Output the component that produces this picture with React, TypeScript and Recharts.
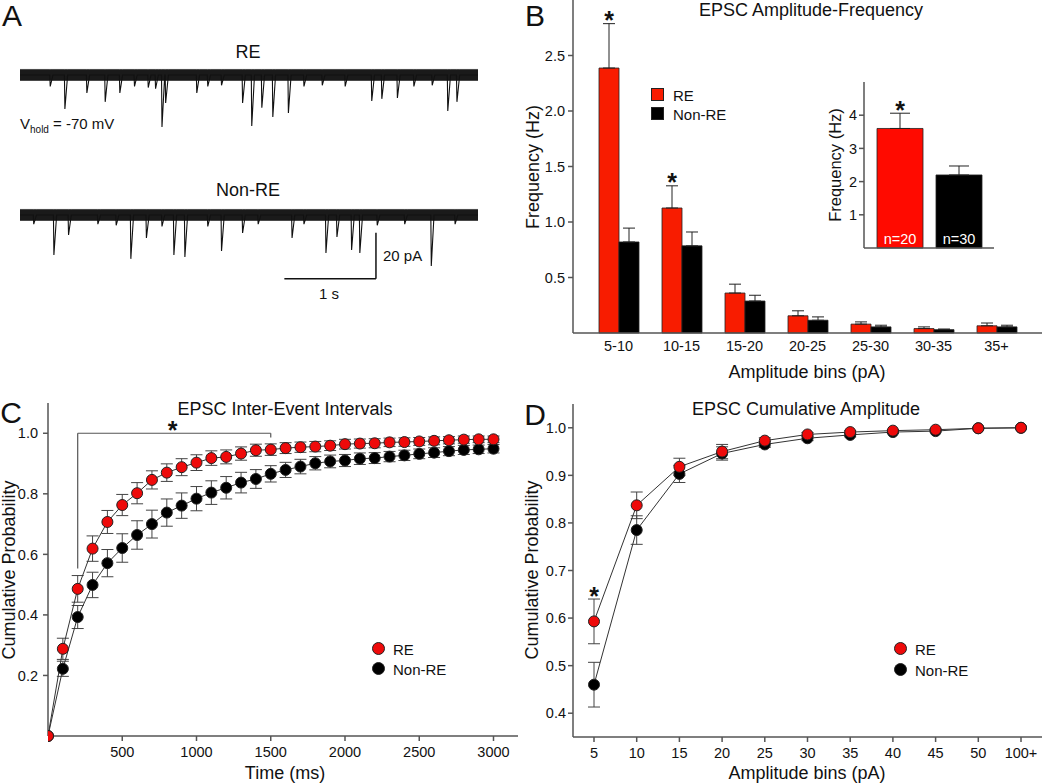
import React from "react";
import {
  BarChart,
  Bar,
  XAxis,
  YAxis,
  ErrorBar,
  LabelList,
  Cell,
  ComposedChart,
  Line,
  Area,
  ReferenceLine,
  ReferenceDot,
} from "recharts";

const FONT = '"Liberation Sans", Arial, Helvetica, sans-serif';
const INK = "#111";
const AXIS = "#555";
const RED = "#f81c00";
const DOT_RED = "#ee0a0a";
const BLACK = "#000";

// ---- A: example traces (event time in s, amplitude in pA) ----
const reEventTimes = [0.33, 0.49, 0.73, 0.93, 1.09, 1.25, 1.4, 1.48, 1.55, 1.59, 1.93, 2.05, 2.2, 2.43, 2.53, 2.64, 2.76, 2.93, 3.1, 3.3, 3.55, 3.84, 3.95, 4.12, 4.3, 4.5, 4.67, 4.77];
const reEventAmps = [5, 14.8, 7.8, 11.7, 7.8, 5, 5.5, 6, 22.6, 12.2, 7.8, 5, 4.5, 12.2, 22.2, 14.3, 18.3, 16.5, 5, 4.5, 5, 11.3, 10.4, 10, 5, 4.5, 15.7, 11.7];
const nonEventTimes = [0.15, 0.37, 0.53, 0.85, 1.05, 1.21, 1.38, 1.55, 1.68, 1.8, 2.05, 2.2, 2.43, 2.6, 2.97, 3.1, 3.34, 3.46, 3.62, 3.71, 3.9, 4.2, 4.49, 4.75];
const nonEventAmps = [4, 17.4, 8.7, 4, 4.5, 19.1, 10, 5, 17.4, 18.3, 5, 15.7, 7.8, 4, 10, 4, 16.5, 9.6, 15.2, 16.5, 4.5, 4, 22.2, 4];
const traceLength = 5;
const noiseHalf = 2.4;
const scaleBarStart = 2.886;
const scaleBarSec = 1;
const scaleBarBase = -27.8;
const scaleBarPA = 20;

// ---- B: amplitude-frequency ----
const ampBins = ["5-10", "10-15", "15-20", "20-25", "25-30", "30-35", "35+"];
const freqRE = [2.387, 1.126, 0.36, 0.155, 0.08, 0.04, 0.065];
const freqREErr = [0.4, 0.2, 0.08, 0.045, 0.02, 0.015, 0.025];
const freqNon = [0.82, 0.785, 0.288, 0.115, 0.055, 0.03, 0.055];
const freqNonErr = [0.125, 0.125, 0.052, 0.03, 0.015, 0.006, 0.015];
const freqSig = [true, true, false, false, false, false, false];
const freqTicks = [0.5, 1.0, 1.5, 2.0, 2.5];

// inset: mean frequency
const groups = ["RE", "Non-RE"];
const meanFreq = [3.6, 2.2];
const meanFreqErr = [0.46, 0.27];
const groupN = ["n=20", "n=30"];
const meanSig = [true, false];

// ---- C: inter-event intervals ----
const ieiTimes = [0, 100, 200, 300, 400, 500, 600, 700, 800, 900, 1000, 1100, 1200, 1300, 1400, 1500, 1600, 1700, 1800, 1900, 2000, 2100, 2200, 2300, 2400, 2500, 2600, 2700, 2800, 2900, 3000];
const ieiRE = [0, 0.288, 0.486, 0.619, 0.707, 0.763, 0.802, 0.846, 0.87, 0.888, 0.903, 0.918, 0.922, 0.933, 0.944, 0.946, 0.951, 0.954, 0.956, 0.959, 0.964, 0.966, 0.967, 0.97, 0.971, 0.973, 0.975, 0.977, 0.979, 0.98, 0.98];
const ieiREErr = [0, 0.035, 0.044, 0.042, 0.038, 0.035, 0.035, 0.03, 0.029, 0.028, 0.026, 0.024, 0.023, 0.022, 0.02, 0.019, 0.018, 0.017, 0.017, 0.016, 0.016, 0.015, 0.015, 0.014, 0.014, 0.013, 0.013, 0.012, 0.012, 0.011, 0.011];
const ieiNon = [0, 0.222, 0.393, 0.499, 0.571, 0.621, 0.664, 0.7, 0.738, 0.761, 0.784, 0.804, 0.82, 0.837, 0.849, 0.866, 0.879, 0.89, 0.901, 0.907, 0.91, 0.916, 0.918, 0.923, 0.927, 0.932, 0.936, 0.941, 0.945, 0.947, 0.949];
const ieiNonErr = [0, 0.025, 0.038, 0.042, 0.045, 0.047, 0.047, 0.046, 0.045, 0.042, 0.04, 0.039, 0.037, 0.034, 0.031, 0.027, 0.025, 0.024, 0.022, 0.021, 0.02, 0.019, 0.018, 0.017, 0.017, 0.016, 0.016, 0.015, 0.015, 0.014, 0.014];
const ieiTicks = [500, 1000, 1500, 2000, 2500, 3000];
const ieiYTicks = [0.2, 0.4, 0.6, 0.8, 1.0];
const bracketStart = 200;
const bracketEnd = 1500;
const bracketY = 1.0;
const bracketLeftLow = 0.553;
const bracketRightLow = 0.986;

// ---- D: cumulative amplitude ----
const cumBins = ["5", "10", "15", "20", "25", "30", "35", "40", "45", "50", "100+"];
const cumRE = [0.593, 0.837, 0.918, 0.95, 0.973, 0.986, 0.991, 0.994, 0.996, 0.999, 1.0];
const cumREErr = [0.047, 0.028, 0.018, 0.015, 0.006, 0.004, 0.003, 0.002, 0.002, 0.001, 0];
const cumNon = [0.46, 0.785, 0.903, 0.946, 0.965, 0.978, 0.985, 0.991, 0.993, 0.999, 1.0];
const cumNonErr = [0.047, 0.03, 0.018, 0.014, 0.006, 0.005, 0.004, 0.003, 0.002, 0.001, 0];
const cumYTicks = [0.4, 0.5, 0.6, 0.7, 0.8, 0.9, 1.0];

const buildTrace = (times: number[], amps: number[]) => {
  const rows: { t: number; i: number }[] = [
    { t: 0, i: 0 },
    { t: traceLength, i: 0 },
  ];
  times.forEach((t, k) => {
    rows.push({ t: t - 0.005, i: 0 }, { t, i: -amps[k] }, { t: t + 0.03, i: 0 });
  });
  return rows
    .sort((a, b) => a.t - b.t)
    .map((r) => ({ ...r, noise: [-noiseHalf, noiseHalf] }));
};

const reTrace = buildTrace(reEventTimes, reEventAmps);
const nonTrace = buildTrace(nonEventTimes, nonEventAmps);

const freqData = ampBins.map((bin, i) => ({
  bin,
  re: freqRE[i],
  reErr: [0, freqREErr[i]],
  non: freqNon[i],
  nonErr: [0, freqNonErr[i]],
  sig: freqSig[i],
}));

const insetData = groups.map((g, i) => ({
  g,
  v: meanFreq[i],
  err: [0, meanFreqErr[i]],
  n: groupN[i],
  sig: meanSig[i],
}));

const ieiData = ieiTimes.map((t, i) => ({
  t,
  re: ieiRE[i],
  reErr: ieiREErr[i],
  non: ieiNon[i],
  nonErr: ieiNonErr[i],
}));

const cumData = cumBins.map((bin, i) => ({
  bin,
  re: cumRE[i],
  reErr: cumREErr[i],
  non: cumNon[i],
  nonErr: cumNonErr[i],
}));

const fmt1 = (v: number) => v.toFixed(1);

const axisProps = {
  axisLine: { stroke: AXIS, strokeWidth: 1.5 },
  tickLine: { stroke: AXIS, strokeWidth: 1.5 },
  tick: { fill: INK, fontSize: 14.5 },
  tickSize: 5,
};

const STAR_SIZE = 25;

// star over a bar, placed above its upper error bar
const barStar = (rows: any[], errKey: string) => (props: any) => {
  const vb = props.viewBox ?? {};
  const x = props.x ?? vb.x;
  const y = props.y ?? vb.y;
  const width = props.width ?? vb.width;
  const height = props.height ?? vb.height;
  const row = rows[props.index];
  if (!row || !row.sig) return null;
  const up = row[errKey][1];
  const errPx = (up / Number(props.value)) * height;
  const cy = y - errPx - 9;
  return (
    <text x={x + width / 2} y={cy + STAR_SIZE * 0.58} textAnchor="middle" fontSize={STAR_SIZE} fontWeight={700} fill={INK}>
      *
    </text>
  );
};

const dotStar = (lift: number) => (props: any) => {
  const vb = props.viewBox ?? {};
  const cx = vb.x + (vb.width ?? 0) / 2;
  const cy = vb.y + (vb.height ?? 0) / 2 - lift;
  return (
    <text x={cx} y={cy + STAR_SIZE * 0.58} textAnchor="middle" fontSize={STAR_SIZE} fontWeight={700} fill={INK}>
      *
    </text>
  );
};

type TxtProps = {
  x: number;
  y: number;
  size?: number;
  anchor?: "start" | "middle";
  rotate?: boolean;
  color?: string;
  children: React.ReactNode;
};

function Txt({ x, y, size = 18, anchor = "middle", rotate = false, color = INK, children }: TxtProps) {
  const tx = anchor === "middle" ? "-50%" : "0";
  return (
    <div
      style={{
        position: "absolute",
        left: x,
        top: y,
        fontSize: size,
        color,
        lineHeight: 1,
        whiteSpace: "nowrap",
        transform: `translate(${tx},-50%)${rotate ? " rotate(-90deg)" : ""}`,
      }}
    >
      {children}
    </div>
  );
}

const legendItems = [
  { name: "RE", color: RED, dot: DOT_RED },
  { name: "Non-RE", color: BLACK, dot: BLACK },
];

function LegendBox({ x, y, step, textX, shape }: { x: number; y: number; step: number; textX: number; shape: "square" | "circle" }) {
  return (
    <>
      {legendItems.map((it, i) => (
        <React.Fragment key={it.name}>
          <div
            style={{
              position: "absolute",
              left: x - 6.5,
              top: y + i * step - 7,
              width: 13,
              height: 13,
              boxSizing: "border-box",
              border: "1px solid #222",
              borderRadius: shape === "circle" ? "50%" : 0,
              background: shape === "circle" ? it.dot : it.color,
            }}
          />
          <Txt x={textX} y={y + i * step} size={15} anchor="start">
            {it.name}
          </Txt>
        </React.Fragment>
      ))}
    </>
  );
}

function Trace({ data, scaleBar }: { data: any[]; scaleBar?: boolean }) {
  return (
    <ComposedChart width={458} height={120} data={data} margin={{ top: 0, right: 0, left: 0, bottom: 0 }}>
      <XAxis type="number" dataKey="t" domain={[0, traceLength]} hide />
      <YAxis domain={[-37, 15.2]} hide allowDataOverflow />
      <Area type="linear" dataKey="noise" fill="#1a1a1a" fillOpacity={1} stroke="#1a1a1a" strokeWidth={0.6} isAnimationActive={false} />
      <Line type="linear" dataKey="i" stroke={INK} strokeWidth={1.1} dot={false} isAnimationActive={false} />
      {scaleBar && (
        <ReferenceLine
          segment={[
            { x: scaleBarStart, y: scaleBarBase },
            { x: scaleBarStart + scaleBarSec, y: scaleBarBase },
          ]}
          stroke={INK}
          strokeWidth={1.5}
        />
      )}
      {scaleBar && (
        <ReferenceLine
          segment={[
            { x: scaleBarStart + scaleBarSec, y: scaleBarBase },
            { x: scaleBarStart + scaleBarSec, y: scaleBarBase + scaleBarPA },
          ]}
          stroke={INK}
          strokeWidth={1.5}
        />
      )}
    </ComposedChart>
  );
}

export default function App() {
  const dotRE = { r: 5.5, fill: DOT_RED, stroke: "#222", strokeWidth: 1 };
  const dotNon = { r: 5.5, fill: BLACK, stroke: "#222", strokeWidth: 1 };

  return (
    <div style={{ position: "absolute", left: 0, top: 0, width: 1050, height: 783, background: "#fff", fontFamily: FONT, color: INK, overflow: "hidden" }}>
      {/* A */}
      <Txt x={12} y={16} size={30}>A</Txt>
      <Txt x={248} y={52}>RE</Txt>
      <div style={{ position: "absolute", left: 20, top: 40 }}>
        <Trace data={reTrace} />
      </div>
      <Txt x={20} y={123} size={15} anchor="start">
        V<span style={{ fontSize: 10, position: "relative", top: 4 }}>hold</span> = -70 mV
      </Txt>
      <Txt x={248} y={190}>Non-RE</Txt>
      <div style={{ position: "absolute", left: 20, top: 180 }}>
        <Trace data={nonTrace} scaleBar />
      </div>
      <Txt x={383} y={255} size={15} anchor="start">20 pA</Txt>
      <Txt x={329} y={293} size={15}>1 s</Txt>

      {/* B */}
      <div style={{ position: "absolute", left: 520, top: 0 }}>
        <BarChart width={530} height={400} data={freqData} margin={{ top: 0, right: 8, left: 0, bottom: 37 }} barGap={0}>
          <XAxis dataKey="bin" height={30} padding={{ left: 14, right: 14 }} {...axisProps} tickLine={false} tickMargin={3} interval={0} />
          <YAxis width={53} domain={[0, 3]} ticks={freqTicks} tickFormatter={fmt1} tickMargin={3} {...axisProps} />
          <Bar dataKey="re" barSize={20} fill={RED} stroke="#222" strokeWidth={0.8} isAnimationActive={false}>
            <ErrorBar dataKey="reErr" direction="y" width={6} stroke="#222" strokeWidth={1} />
            <LabelList dataKey="re" content={barStar(freqData, "reErr")} />
          </Bar>
          <Bar dataKey="non" barSize={20} fill={BLACK} stroke="#222" strokeWidth={0.8} isAnimationActive={false}>
            <ErrorBar dataKey="nonErr" direction="y" width={6} stroke="#222" strokeWidth={1} />
          </Bar>
        </BarChart>
      </div>
      <Txt x={535} y={16} size={30}>B</Txt>
      <Txt x={811} y={10}>EPSC Amplitude-Frequency</Txt>
      <Txt x={533} y={167} rotate>Frequency (Hz)</Txt>
      <Txt x={807} y={372}>Amplitude bins (pA)</Txt>
      <LegendBox x={657.5} y={95} step={19} textX={673} shape="square" />

      {/* B inset */}
      <div style={{ position: "absolute", left: 800, top: 60 }}>
        <BarChart width={210} height={210} data={insetData} margin={{ top: 22, right: 16, left: 0, bottom: 21 }}>
          <XAxis dataKey="g" height={1} tick={false} tickLine={false} axisLine={{ stroke: AXIS, strokeWidth: 1.5 }} padding={{ left: 6, right: 6 }} />
          <YAxis width={64} domain={[0, 5]} ticks={[1, 2, 3, 4]} tickMargin={2} {...axisProps} />
          <Bar dataKey="v" barSize={46} stroke="#222" strokeWidth={0.8} isAnimationActive={false}>
            {insetData.map((d, i) => (
              <Cell key={d.g} fill={i === 0 ? "#ff0a00" : BLACK} />
            ))}
            <ErrorBar dataKey="err" direction="y" width={10} stroke="#222" strokeWidth={1} />
            <LabelList dataKey="n" position="insideBottom" offset={4} fill="#fff" fontSize={14.5} />
            <LabelList dataKey="v" content={barStar(insetData, "err")} />
          </Bar>
        </BarChart>
      </div>
      <Txt x={835} y={165} size={16.5} rotate>Frequency (Hz)</Txt>

      {/* C */}
      <div style={{ position: "absolute", left: 0, top: 380 }}>
        <ComposedChart width={530} height={403} data={ieiData} margin={{ top: 23, right: 12, left: 0, bottom: 17 }}>
          <XAxis type="number" dataKey="t" domain={[0, 3165]} ticks={ieiTicks} height={30} tickMargin={6} {...axisProps} allowDataOverflow />
          <YAxis width={48} domain={[0, 1.1]} ticks={ieiYTicks} tickFormatter={fmt1} tickMargin={5} {...axisProps} />
          <ReferenceLine segment={[{ x: bracketStart, y: bracketY }, { x: bracketEnd, y: bracketY }]} stroke={AXIS} strokeWidth={1.2} />
          <ReferenceLine segment={[{ x: bracketStart, y: bracketY }, { x: bracketStart, y: bracketLeftLow }]} stroke={AXIS} strokeWidth={1.2} />
          <ReferenceLine segment={[{ x: bracketEnd, y: bracketY }, { x: bracketEnd, y: bracketRightLow }]} stroke={AXIS} strokeWidth={1.2} />
          <Line type="linear" dataKey="non" stroke="#333" strokeWidth={1} dot={dotNon} isAnimationActive={false}>
            <ErrorBar dataKey="nonErr" direction="y" width={6} stroke="#444" strokeWidth={1} />
          </Line>
          <Line type="linear" dataKey="re" stroke="#333" strokeWidth={1} dot={dotRE} isAnimationActive={false}>
            <ErrorBar dataKey="reErr" direction="y" width={6} stroke="#444" strokeWidth={1} />
          </Line>
          <ReferenceDot x={(bracketStart + bracketEnd) / 2 - 10} y={bracketY} r={1} fill="none" stroke="none" label={dotStar(9)} />
        </ComposedChart>
      </div>
      <Txt x={11} y={413} size={30}>C</Txt>
      <Txt x={285} y={409}>EPSC Inter-Event Intervals</Txt>
      <Txt x={8.5} y={570} rotate>Cumulative Probability</Txt>
      <Txt x={285} y={773}>Time (ms)</Txt>
      <LegendBox x={378} y={649} step={20} textX={393} shape="circle" />

      {/* D */}
      <div style={{ position: "absolute", left: 520, top: 380 }}>
        <ComposedChart width={530} height={403} data={cumData} margin={{ top: 24, right: 8, left: 0, bottom: 16 }}>
          <XAxis dataKey="bin" height={30} tickMargin={6} interval={0} padding={{ left: 21, right: 21 }} {...axisProps} />
          <YAxis width={53} domain={[0.35, 1.05]} ticks={cumYTicks} tickFormatter={fmt1} tickMargin={2} allowDataOverflow {...axisProps} />
          <Line type="linear" dataKey="non" stroke="#333" strokeWidth={1} dot={dotNon} isAnimationActive={false}>
            <ErrorBar dataKey="nonErr" direction="y" width={6} stroke="#444" strokeWidth={1} />
          </Line>
          <Line type="linear" dataKey="re" stroke="#333" strokeWidth={1} dot={dotRE} isAnimationActive={false}>
            <ErrorBar dataKey="reErr" direction="y" width={6} stroke="#444" strokeWidth={1} />
          </Line>
          <ReferenceDot x={cumBins[0]} y={cumRE[0] + cumREErr[0]} r={1} fill="none" stroke="none" label={dotStar(9)} />
        </ComposedChart>
      </div>
      <Txt x={535} y={415} size={30}>D</Txt>
      <Txt x={806} y={409}>EPSC Cumulative Amplitude</Txt>
      <Txt x={532} y={570} rotate>Cumulative Probability</Txt>
      <Txt x={807} y={773}>Amplitude bins (pA)</Txt>
      <LegendBox x={900} y={649} step={21} textX={915} shape="circle" />
    </div>
  );
}
